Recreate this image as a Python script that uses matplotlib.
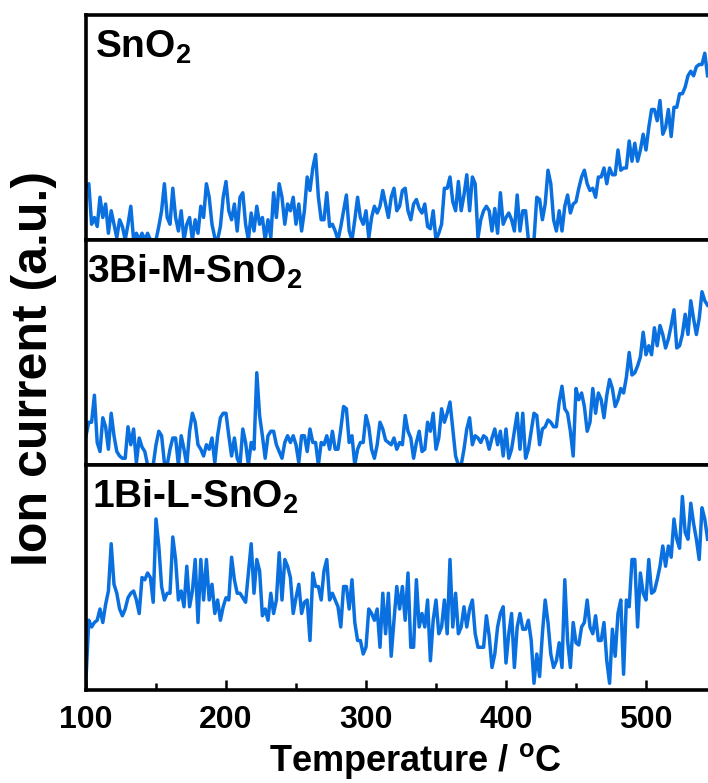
import numpy as np
import matplotlib.pyplot as plt
from matplotlib.ticker import MultipleLocator

plt.rcParams['font.family'] = ['Liberation Sans', 'DejaVu Sans']
plt.rcParams['font.weight'] = 'bold'
plt.rcParams['mathtext.fontset'] = 'custom'
plt.rcParams['mathtext.rm'] = 'Liberation Sans:bold'
plt.rcParams['mathtext.bf'] = 'Liberation Sans:bold'
plt.rcParams['mathtext.default'] = 'rm'

# temperature sampling (degC), one reading every 2 degrees
temperature = np.arange(100, 545, 2)

# ion current, a.u. (each panel normalised 0..1)
sno2 = [
    0.24, 0.25, 0.07, 0.10, 0.06, 0.19, 0.10, 0.16, 0.03, 0.13,
    0.07, 0.01, 0.09, 0.06, 0.00, 0.07, 0.15, 0.00, 0.03, 0.00,
    0.03, 0.00, 0.03, 0.00, 0.00, 0.00, 0.06, 0.13, 0.25, 0.10,
    0.07, 0.23, 0.10, 0.04, 0.13, 0.00, 0.07, 0.10, 0.00, 0.09,
    0.03, 0.15, 0.10, 0.25, 0.19, 0.07, 0.01, 0.00, 0.06, 0.19,
    0.26, 0.13, 0.09, 0.16, 0.04, 0.19, 0.21, 0.07, 0.00, 0.12,
    0.04, 0.15, 0.07, 0.10, 0.00, 0.09, 0.01, 0.21, 0.10, 0.25,
    0.19, 0.07, 0.16, 0.13, 0.19, 0.07, 0.16, 0.04, 0.13, 0.28,
    0.22, 0.32, 0.38, 0.19, 0.09, 0.09, 0.21, 0.06, 0.07, 0.04,
    0.00, 0.06, 0.13, 0.20, 0.04, 0.00, 0.09, 0.19, 0.10, 0.07,
    0.13, 0.01, 0.10, 0.15, 0.12, 0.15, 0.22, 0.16, 0.10, 0.19,
    0.23, 0.13, 0.15, 0.22, 0.23, 0.13, 0.09, 0.16, 0.18, 0.14,
    0.12, 0.16, 0.06, 0.05, 0.13, 0.00, 0.03, 0.07, 0.23, 0.23,
    0.28, 0.17, 0.13, 0.26, 0.13, 0.20, 0.29, 0.13, 0.28, 0.25,
    0.01, 0.09, 0.13, 0.15, 0.13, 0.04, 0.14, 0.03, 0.21, 0.07,
    0.10, 0.12, 0.09, 0.04, 0.20, 0.04, 0.13, 0.13, 0.00, 0.00,
    0.00, 0.19, 0.18, 0.09, 0.16, 0.31, 0.25, 0.09, 0.04, 0.13,
    0.04, 0.15, 0.20, 0.12, 0.16, 0.17, 0.23, 0.28, 0.31, 0.25,
    0.22, 0.23, 0.19, 0.28, 0.28, 0.32, 0.25, 0.32, 0.29, 0.29,
    0.40, 0.31, 0.32, 0.32, 0.44, 0.35, 0.43, 0.35, 0.40, 0.47,
    0.40, 0.50, 0.58, 0.58, 0.53, 0.62, 0.47, 0.50, 0.58, 0.46,
    0.59, 0.59, 0.65, 0.65, 0.68, 0.73, 0.75, 0.73, 0.77, 0.78,
    0.78, 0.83, 0.73,
]

bi3_m = [
    0.13, 0.19, 0.19, 0.31, 0.10, 0.06, 0.21, 0.17, 0.07, 0.23,
    0.13, 0.06, 0.04, 0.03, 0.03, 0.17, 0.09, 0.16, 0.01, 0.12,
    0.08, 0.06, 0.00, 0.00, 0.00, 0.09, 0.15, 0.13, 0.01, 0.00,
    0.07, 0.12, 0.12, 0.00, 0.13, 0.07, 0.00, 0.15, 0.23, 0.19,
    0.09, 0.07, 0.04, 0.09, 0.07, 0.12, 0.01, 0.13, 0.21, 0.23,
    0.23, 0.13, 0.04, 0.12, 0.03, 0.00, 0.16, 0.10, 0.00, 0.10,
    0.07, 0.41, 0.22, 0.13, 0.03, 0.13, 0.15, 0.15, 0.09, 0.06,
    0.03, 0.10, 0.13, 0.10, 0.13, 0.09, 0.01, 0.13, 0.13, 0.06,
    0.16, 0.10, 0.10, 0.00, 0.10, 0.09, 0.13, 0.07, 0.15, 0.07,
    0.07, 0.16, 0.26, 0.25, 0.10, 0.13, 0.00, 0.07, 0.10, 0.10,
    0.22, 0.17, 0.07, 0.03, 0.09, 0.19, 0.16, 0.11, 0.10, 0.09,
    0.12, 0.07, 0.10, 0.09, 0.22, 0.15, 0.12, 0.03, 0.10, 0.15,
    0.06, 0.07, 0.19, 0.15, 0.23, 0.07, 0.12, 0.25, 0.19, 0.23,
    0.28, 0.16, 0.04, 0.00, 0.00, 0.07, 0.16, 0.21, 0.09, 0.13,
    0.12, 0.10, 0.13, 0.12, 0.07, 0.12, 0.16, 0.09, 0.15, 0.04,
    0.16, 0.03, 0.07, 0.15, 0.23, 0.07, 0.23, 0.03, 0.07, 0.15,
    0.23, 0.22, 0.09, 0.16, 0.17, 0.20, 0.19, 0.17, 0.17, 0.28,
    0.35, 0.25, 0.23, 0.15, 0.04, 0.34, 0.29, 0.32, 0.26, 0.15,
    0.19, 0.34, 0.23, 0.32, 0.29, 0.21, 0.31, 0.38, 0.34, 0.26,
    0.29, 0.34, 0.32, 0.39, 0.50, 0.40, 0.41, 0.44, 0.48, 0.59,
    0.49, 0.53, 0.49, 0.61, 0.53, 0.62, 0.58, 0.52, 0.56, 0.62,
    0.69, 0.52, 0.53, 0.58, 0.67, 0.58, 0.73, 0.65, 0.58, 0.65,
    0.77, 0.73, 0.71,
]

bi1_l = [
    0.05, 0.31, 0.28, 0.30, 0.31, 0.36, 0.30, 0.38, 0.44, 0.65,
    0.47, 0.43, 0.36, 0.33, 0.36, 0.41, 0.43, 0.44, 0.40, 0.34,
    0.50, 0.49, 0.52, 0.50, 0.39, 0.76, 0.64, 0.46, 0.40, 0.43,
    0.43, 0.68, 0.58, 0.40, 0.44, 0.37, 0.55, 0.37, 0.44, 0.58,
    0.30, 0.58, 0.40, 0.58, 0.40, 0.47, 0.34, 0.40, 0.31, 0.37,
    0.41, 0.40, 0.59, 0.49, 0.43, 0.43, 0.41, 0.39, 0.52, 0.65,
    0.43, 0.58, 0.53, 0.33, 0.36, 0.31, 0.43, 0.34, 0.40, 0.61,
    0.40, 0.58, 0.55, 0.50, 0.34, 0.41, 0.47, 0.34, 0.39, 0.40,
    0.22, 0.52, 0.46, 0.46, 0.40, 0.53, 0.58, 0.40, 0.43, 0.40,
    0.37, 0.28, 0.46, 0.46, 0.36, 0.49, 0.30, 0.22, 0.22, 0.16,
    0.19, 0.36, 0.34, 0.31, 0.36, 0.19, 0.43, 0.25, 0.43, 0.15,
    0.31, 0.46, 0.36, 0.46, 0.31, 0.52, 0.19, 0.19, 0.49, 0.28,
    0.34, 0.28, 0.40, 0.13, 0.31, 0.40, 0.25, 0.28, 0.40, 0.25,
    0.58, 0.28, 0.43, 0.25, 0.28, 0.37, 0.28, 0.36, 0.40, 0.25,
    0.19, 0.19, 0.19, 0.33, 0.24, 0.10, 0.16, 0.28, 0.34, 0.37,
    0.12, 0.25, 0.34, 0.10, 0.28, 0.34, 0.27, 0.27, 0.31, 0.22,
    0.03, 0.16, 0.06, 0.25, 0.40, 0.30, 0.16, 0.10, 0.13, 0.21,
    0.10, 0.49, 0.22, 0.10, 0.30, 0.21, 0.20, 0.28, 0.30, 0.40,
    0.28, 0.25, 0.33, 0.22, 0.22, 0.30, 0.13, 0.03, 0.27, 0.15,
    0.34, 0.40, 0.07, 0.40, 0.37, 0.58, 0.58, 0.28, 0.52, 0.43,
    0.40, 0.58, 0.43, 0.44, 0.49, 0.55, 0.64, 0.55, 0.64, 0.59,
    0.76, 0.67, 0.63, 0.86, 0.70, 0.67, 0.83, 0.74, 0.67, 0.58,
    0.81, 0.76, 0.67,
]

series = [sno2, bi3_m, bi1_l]
labels = ['SnO$_2$', '3Bi-M-SnO$_2$', '1Bi-L-SnO$_2$']
label_x = [0.015, 0.002, 0.010]

line_color = '#0a70e0'

fig = plt.figure(figsize=(7.08, 7.83), dpi=100)

left = 86 / 708
width = 1.0 - left
height = 225 / 783
bottoms = [1 - 240 / 783, 1 - 465 / 783, 1 - 690 / 783]

for i in range(3):
    ax = fig.add_axes([left, bottoms[i], width, height])
    ax.plot(temperature, series[i], color=line_color, linewidth=2.5)
    ax.set_xlim(100, 544.3)
    ax.set_ylim(0, 1)
    ax.set_yticks([])
    for side in ['left', 'top', 'bottom']:
        ax.spines[side].set_linewidth(2.6)
    ax.spines['right'].set_visible(False)
    ax.text(label_x[i], 0.81, labels[i], transform=ax.transAxes,
            fontsize=28, fontweight='bold', ha='left', va='baseline')
    if i < 2:
        ax.set_xticks([])
    else:
        ax.xaxis.set_major_locator(MultipleLocator(100))
        ax.xaxis.set_minor_locator(MultipleLocator(50))
        ax.tick_params(axis='x', which='major', direction='in', length=7,
                       width=1.8, pad=11, labelsize=23)
        ax.tick_params(axis='x', which='minor', direction='in', length=5,
                       width=1.8)
        for lab in ax.get_xticklabels():
            lab.set_fontweight('bold')

fig.text(34 / 708, 1 - 368 / 783, 'Ion current (a.u.)', rotation=90,
         fontsize=36, fontweight='bold', ha='center', va='center')
fig.text(415 / 708, 1 - 761 / 783, 'Temperature / $^\\mathrm{o}$C',
         fontsize=26, fontweight='bold', ha='center', va='center')

fig.savefig('out.png', dpi=100)
